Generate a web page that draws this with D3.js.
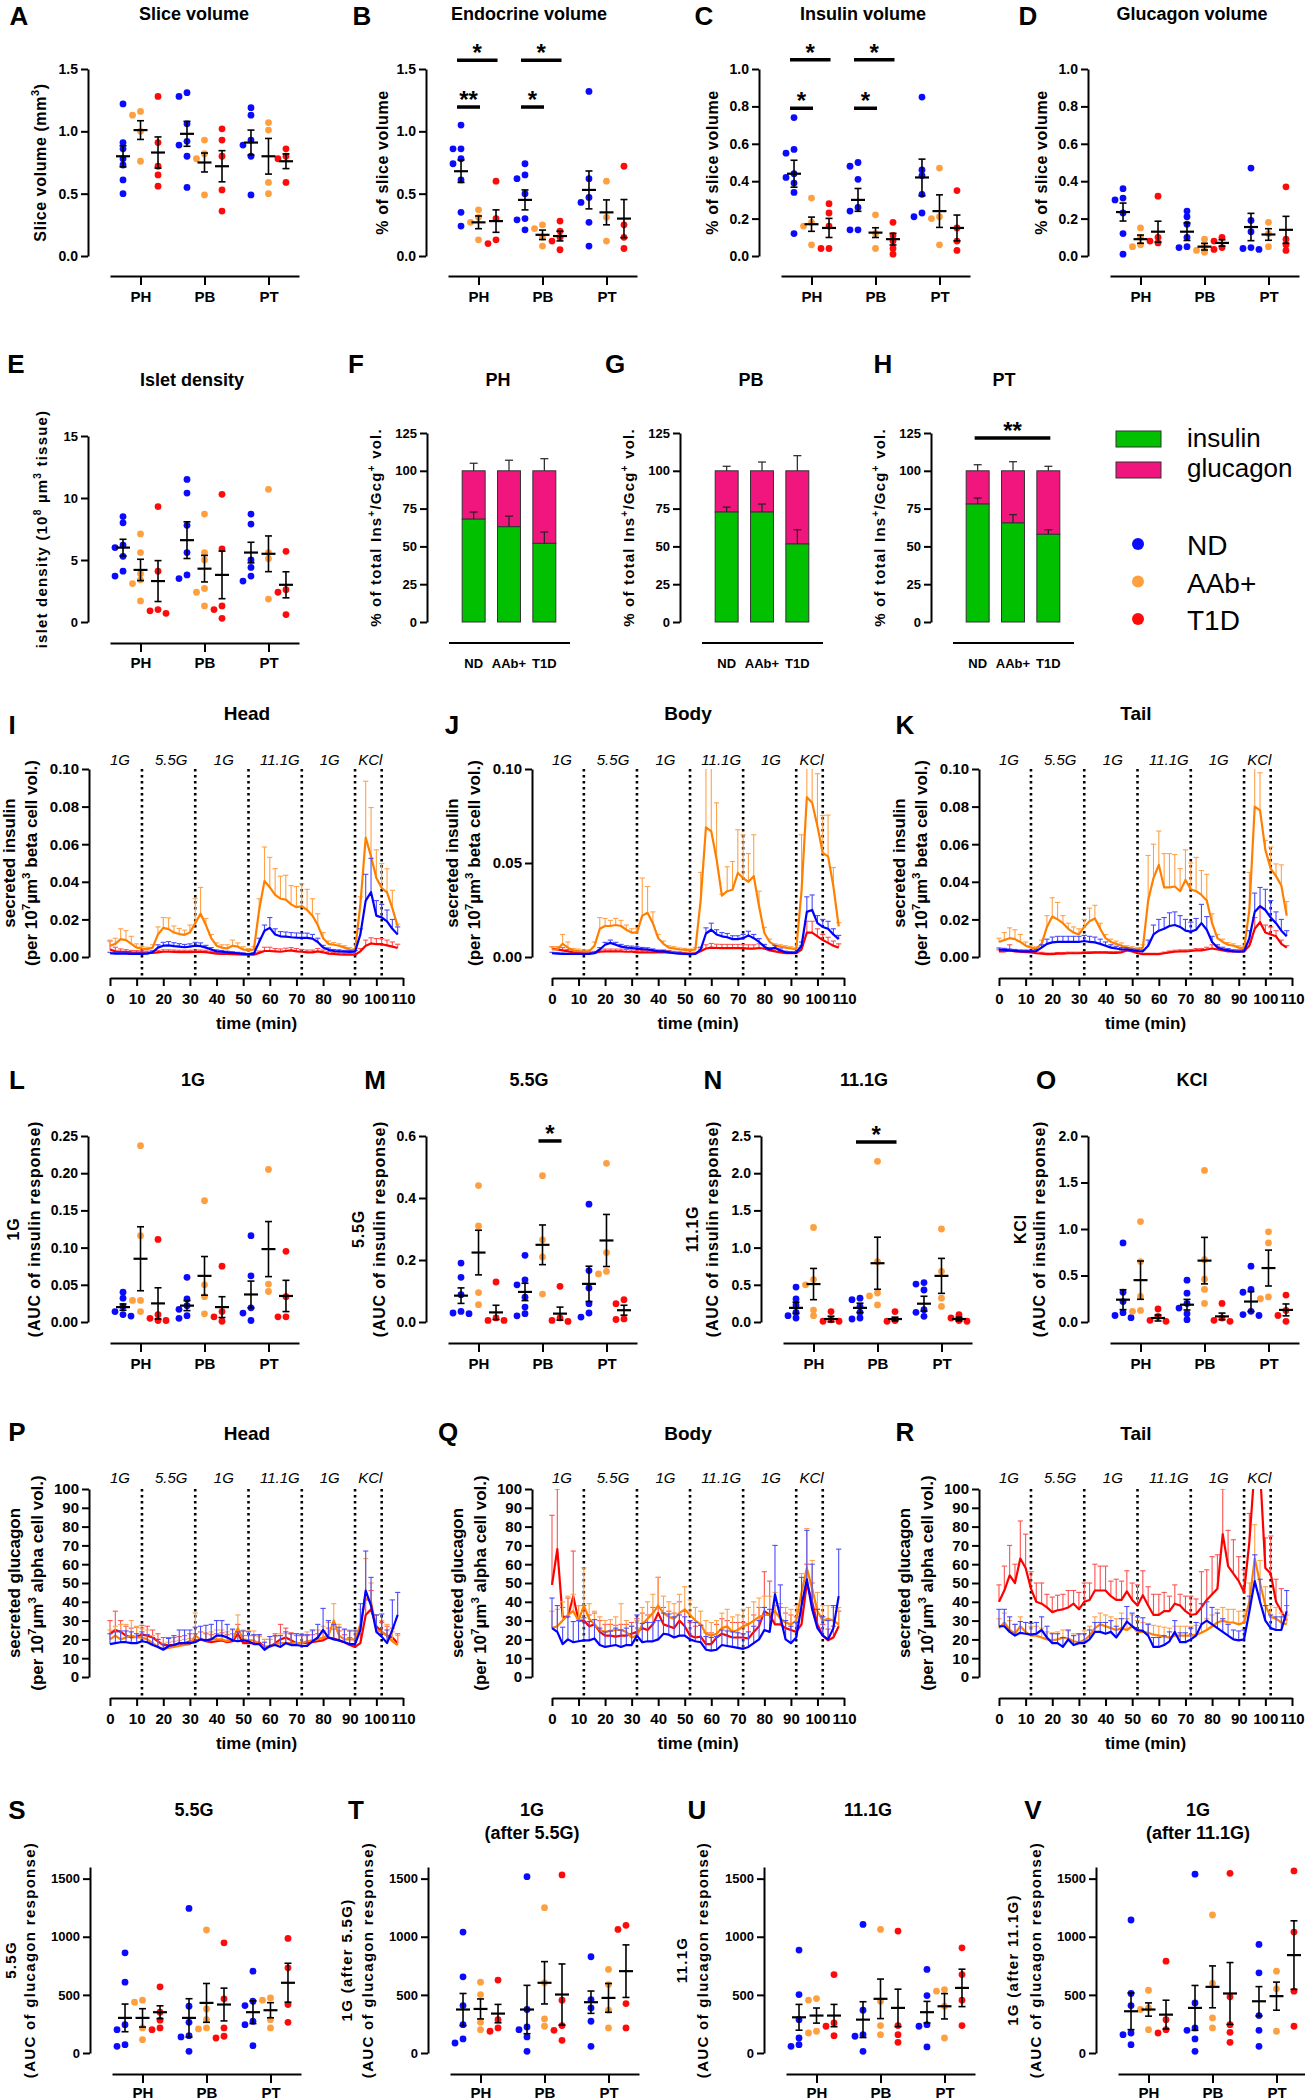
<!DOCTYPE html>
<html><head><meta charset="utf-8">
<script src="https://cdn.jsdelivr.net/npm/d3@7"></script>
<style>body{margin:0;background:#fff}svg{display:block}text{font-family:"Liberation Sans",Arial,sans-serif}</style>
</head><body><svg id="fig" width="1305" height="2100"></svg>
<script>
// ---------------- DATA ----------------
const groups = ["PH","PB","PT"];
const seriesNames = ["ND","AAb+","T1D"];

// A slice volume
const sliceTicks = [0,0.5,1.0,1.5];
const sliceND = [[1.22,0.91,0.86,0.78,0.73,0.61,0.50],[1.31,1.28,1.06,0.92,0.89,0.80,0.55],[1.19,1.13,0.93,0.89,0.80,0.49]];
const sliceAAb = [[1.16,1.13,1.00,0.76],[0.93,0.82,0.78,0.49],[1.07,1.01,0.59,0.50]];
const sliceT1D = [[1.28,0.91,0.72,0.65,0.56],[1.02,0.93,0.80,0.53,0.36],[0.86,0.80,0.78,0.59]];
const sliceMean = [[0.80,1.01,0.83],[0.98,0.75,0.72],[0.91,0.80,0.76]];
const sliceSem = [[0.085,0.075,0.125],[0.10,0.076,0.125],[0.10,0.143,0.059]];
// B endocrine volume
const endoTicks = [0,0.5,1.0,1.5];
const endoND = [[1.05,0.86,0.86,0.78,0.74,0.61,0.35,0.24],[0.74,0.65,0.62,0.50,0.30,0.29,0.21],[1.32,0.62,0.47,0.43,0.27,0.08]];
const endoAAb = [[0.37,0.31,0.27,0.13],[0.25,0.22,0.15,0.08],[0.60,0.31,0.12]];
const endoT1D = [[0.60,0.30,0.13,0.10],[0.28,0.20,0.15,0.12,0.05],[0.72,0.25,0.15,0.06]];
const endoMean = [[0.68,0.27,0.28],[0.45,0.17,0.16],[0.53,0.35,0.30]];
const endoSem = [[0.09,0.051,0.09],[0.08,0.038,0.039],[0.152,0.10,0.153]];
const endoSig = [{g:"PH",a:0,b:2,v:1.57,t:"*"},{g:"PB",a:0,b:2,v:1.57,t:"*"},{g:"PH",a:0,b:1,v:1.195,t:"**"},{g:"PB",a:0,b:1,v:1.195,t:"*"}];
// C insulin volume
const fracTicks = [0,0.2,0.4,0.6,0.8,1.0];
const insVolND = [[0.74,0.57,0.55,0.44,0.42,0.39,0.34,0.12],[0.50,0.48,0.41,0.26,0.24,0.14,0.14],[0.85,0.46,0.43,0.33,0.23,0.21]];
const insVolAAb = [[0.31,0.18,0.16,0.06],[0.22,0.12,0.04],[0.47,0.21,0.20,0.06]];
const insVolT1D = [[0.28,0.23,0.16,0.04,0.04],[0.18,0.11,0.08,0.04,0.01],[0.35,0.15,0.08,0.03]];
const insVolMean = [[0.44,0.17,0.15],[0.30,0.125,0.09],[0.42,0.24,0.15]];
const insVolSem = [[0.072,0.038,0.051],[0.061,0.026,0.031],[0.098,0.087,0.069]];
const insVolSig = [{g:"PH",a:0,b:2,v:1.05,t:"*"},{g:"PB",a:0,b:2,v:1.05,t:"*"},{g:"PH",a:0,b:1,v:0.79,t:"*"},{g:"PB",a:0,b:1,v:0.79,t:"*"}];
// D glucagon volume
const gcgVolND = [[0.36,0.31,0.30,0.23,0.12,0.01],[0.24,0.21,0.17,0.10,0.05,0.045],[0.47,0.19,0.13,0.045,0.04,0.035]];
const gcgVolAAb = [[0.15,0.10,0.06,0.05],[0.09,0.05,0.03,0.02],[0.18,0.12,0.05]];
const gcgVolT1D = [[0.32,0.10,0.08,0.07],[0.10,0.08,0.045,0.035],[0.37,0.09,0.06,0.03]];
const gcgVolMean = [[0.235,0.09,0.13],[0.13,0.05,0.07],[0.155,0.115,0.14]];
const gcgVolSem = [[0.048,0.022,0.056],[0.047,0.018,0.017],[0.073,0.031,0.072]];
// E islet density
const isletTicks = [0,5,10,15];
const isletND = [[8.5,8.0,6.2,6.0,5.3,4.1,3.7],[11.5,10.4,7.8,5.6,3.8,3.5],[8.7,7.9,5.0,4.4,3.7,3.3]];
const isletAAb = [[7.1,5.6,3.9,3.4,3.1,1.7],[8.7,5.6,5.0,2.7,2.4,1.3],[10.7,5.6,5.1,1.85]];
const isletT1D = [[9.3,4.1,1.0,0.9,0.7],[10.3,5.9,1.3,1.0,0.3],[5.7,2.6,2.4,0.6]];
const isletMean = [[6.0,4.2,3.3],[6.6,4.3,3.8],[5.6,5.5,3.0]];
const isletSem = [[0.67,0.86,1.65],[1.48,1.07,1.92],[0.83,1.44,1.05]];
// F-H composition bars
const barSeries = ["ND","AAb+","T1D"];
const pctTicks = [0,25,50,75,100,125];
const insPctPH = [68,63,52], insPctSemPH = [4.7,7,7.5], totSemPH = [5,7,8];
const insPctPB = [72.7,72.7,51.6], insPctSemPB = [3.3,5.3,9.4], totSemPB = [3,5.8,10];
const insPctPT = [78,65.5,58], insPctSemPT = [4,5.5,3], totSemPT = [4,6,3];
const ptSig = [{a:0,b:2,v:121.7,t:"**"}];
// L-O insulin AUC
const auc1gTicks = [0,0.05,0.10,0.15,0.20,0.25];
const auc1gND = [[0.040,0.032,0.021,0.014,0.010,0.008],[0.060,0.031,0.022,0.017,0.0085,0.005],[0.116,0.062,0.019,0.012,0.002]];
const auc1gAAb = [[0.237,0.116,0.029,0.029,0.014],[0.163,0.050,0.034,0.011],[0.205,0.051,0.041]];
const auc1gT1D = [[0.111,0.010,0.005,0.002,0.002],[0.075,0.014,0.007,0.001],[0.095,0.034,0.007,0.007]];
const auc1gMean = [[0.020,0.085,0.025],[0.022,0.062,0.020],[0.037,0.098,0.035]];
const auc1gSem = [[0.0042,0.043,0.021],[0.0067,0.026,0.014],[0.018,0.037,0.021]];
const auc55Ticks = [0,0.2,0.4,0.6];
const auc55ND = [[0.19,0.144,0.088,0.034,0.029,0.027],[0.215,0.136,0.12,0.08,0.048,0.027,0.02],[0.38,0.166,0.11,0.059,0.029,0.016]];
const auc55AAb = [[0.44,0.31,0.095,0.056],[0.472,0.265,0.21,0.09],[0.512,0.224,0.163,0.155]];
const auc55T1D = [[0.129,0.013,0.005,0.005],[0.115,0.013,0.005,0.002],[0.072,0.059,0.010,0.008]];
const auc55Mean = [[0.085,0.224,0.031],[0.097,0.249,0.027],[0.123,0.263,0.038]];
const auc55Sem = [[0.025,0.072,0.023],[0.028,0.064,0.021],[0.057,0.084,0.016]];
const auc55Sig = [{g:"PB",a:1,b:2,v:0.584,t:"*"}];
const auc111Ticks = [0,0.5,1.0,1.5,2.0,2.5];
const auc111ND = [[0.47,0.31,0.23,0.13,0.085,0.054],[0.32,0.30,0.21,0.13,0.054,0.04],[0.53,0.51,0.43,0.165,0.13,0.076]];
const auc111AAb = [[1.27,0.57,0.50,0.16,0.085],[2.16,0.81,0.39,0.35,0.23],[1.25,0.68,0.32,0.21]];
const auc111T1D = [[0.14,0.03,0.01,0.01],[0.14,0.02,0.01],[0.10,0.054,0.02,0.01]];
const auc111Mean = [[0.19,0.51,0.04],[0.19,0.79,0.04],[0.246,0.62,0.04]];
const auc111Sem = [[0.076,0.21,0.038],[0.063,0.35,0.025],[0.10,0.235,0.025]];
const auc111Sig = [{g:"PB",a:0,b:2,v:2.42,t:"*"}];
const aucKclTicks = [0,0.5,1.0,1.5,2.0];
const aucKclND = [[0.85,0.32,0.22,0.10,0.07,0.046],[0.45,0.31,0.20,0.15,0.09,0.025],[0.60,0.35,0.32,0.115,0.08,0.07]];
const aucKclAAb = [[1.08,0.65,0.275,0.125,0.115],[1.63,0.67,0.46,0.35,0.20],[0.97,0.85,0.27,0.25]];
const aucKclT1D = [[0.14,0.06,0.018,0.007],[0.20,0.043,0.018,0.007],[0.29,0.125,0.07,0.007]];
const aucKclMean = [[0.24,0.45,0.043],[0.186,0.66,0.06],[0.22,0.58,0.13]];
const aucKclSem = [[0.107,0.206,0.032],[0.057,0.25,0.036],[0.107,0.193,0.064]];
// S-V glucagon AUC
const gAucTicks = [0,500,1000,1500];
const gAuc55ND = [[862,609,244,201,72,57],[1244,402,264,149,138,14],[704,445,408,273,244,63]];
const gAuc55AAb = [[454,437,216,115],[1058,379,287,216,207],[474,454,287,216]];
const gAuc55T1D = [[569,351,282,216,201],[948,466,216,144,129],[986,733,417,264]];
const gAuc55Mean = [[302,302,351],[302,431,417],[351,368,604]];
const gAuc55Sem = [[119,79,55],[165,167,141],[98,65,168]];
const gAuc1aND = [[1040,655,408,244,121,86],[1517,374,224,201,138,14],[828,460,388,273,57]];
const gAuc1aAAb = [[609,503,264,201],[1250,604,293,230],[719,589,368,216]];
const gAuc1aT1D = [[627,287,216,187],[1532,454,236,195,109],[1098,1063,425,216]];
const gAuc1aMean = [[374,379,339],[374,604,503],[437,474,704]];
const gAuc1aSem = [[138,86,79],[208,182,263],[96,124,226]];
const gAuc111ND = [[885,503,287,129,72,57],[1106,368,158,144,14],[719,494,244,230,52]];
const gAuc111AAb = [[468,454,187,172],[1063,445,236,158],[546,532,402,129]];
const gAuc111T1D = [[675,259,230,149],[1049,236,158,92],[905,675,454,236]];
const gAuc111Mean = [[307,322,322],[287,466,388],[351,402,560]];
const gAuc111Sem = [[111,65,96],[154,170,161],[93,109,161]];
const gAuc1bND = [[1144,512,408,172,158,72],[1538,431,216,195,121,14],[934,690,322,195,57]];
const gAuc1bAAb = [[540,388,374,201],[1187,598,302,216],[704,552,187]];
const gAuc1bT1D = [[790,287,201,172],[1546,483,244,178,92],[1566,1040,532,230]];
const gAuc1bMean = [[359,374,330],[388,569,512],[445,489,842]];
const gAuc1bSem = [[158,57,124],[193,180,266],[126,121,295]];

// Perifusion time courses (every 2 min)
const timeMin = [0,2,4,6,8,10,12,14,16,18,20,22,24,26,28,30,32,34,36,38,40,42,44,46,48,50,52,54,56,58,60,62,64,66,68,70,72,74,76,78,80,82,84,86,88,90,92,94,96,98,100,102,104,106,108];
const timeTicks = [0,10,20,30,40,50,60,70,80,90,100,110];
const stimNames = ["1G","5.5G","1G","11.1G","1G","KCl"];
const stimLabelT = [3.75,23,42.75,63.75,82.5,97.75];
const stimBounds = [12,32,52,72,92,102];
const insTicks = [0,0.02,0.04,0.06,0.08,0.10];
const insTicksBody = [0,0.05,0.10];
const gcgTicks = [0,10,20,30,40,50,60,70,80,90,100];

const insHeadND = [0.002,0.0018,0.0018,0.0018,0.0017,0.0017,0.0017,0.0018,0.0025,0.005,0.006,
0.0062,0.0058,0.0055,0.0052,0.0055,0.006,0.0058,0.005,0.004,0.003,0.0028,
0.0025,0.0022,0.002,0.0017,0.0015,0.0018,0.008,0.014,0.0155,0.012,0.011,
0.0108,0.0105,0.0103,0.0102,0.0102,0.0098,0.008,0.005,0.0038,0.0032,0.003,
0.0028,0.0027,0.0028,0.012,0.03,0.0345,0.022,0.021,0.019,0.015,0.012];
const insHeadNDsem = [0.0005,0.0005,0.0005,0.0004,0.0004,0.0004,0.0004,0.0004,0.0008,0.0015,0.0018,
0.002,0.0018,0.0016,0.0015,0.0015,0.0018,0.0017,0.0012,0.001,0.0008,0.0007,
0.0006,0.0006,0.0005,0.0005,0.0004,0.0005,0.002,0.003,0.0055,0.003,0.0025,
0.0025,0.0025,0.0025,0.0025,0.0025,0.0022,0.002,0.0012,0.001,0.0008,0.0008,
0.0007,0.0007,0.0007,0.003,0.014,0.018,0.008,0.007,0.006,0.005,0.004];
const insHeadAAb = [0.006,0.007,0.0095,0.009,0.007,0.005,0.0045,0.0042,0.005,0.012,0.0155,
0.0148,0.013,0.0122,0.0118,0.013,0.018,0.023,0.017,0.01,0.006,0.005,
0.0045,0.006,0.0055,0.004,0.0035,0.004,0.025,0.0405,0.037,0.033,0.031,
0.0305,0.028,0.0265,0.027,0.025,0.022,0.017,0.01,0.007,0.0065,0.006,
0.005,0.004,0.0035,0.028,0.0635,0.0535,0.042,0.0367,0.0344,0.026,0.0163];
const insHeadAAbSem = [0.003,0.003,0.0055,0.005,0.004,0.002,0.0012,0.001,0.0015,0.004,0.0055,
0.006,0.0035,0.003,0.0025,0.004,0.013,0.014,0.0035,0.002,0.0015,0.0015,
0.002,0.003,0.002,0.0015,0.001,0.0015,0.006,0.018,0.016,0.014,0.012,
0.013,0.01,0.011,0.012,0.011,0.009,0.006,0.003,0.0015,0.0012,0.001,
0.001,0.001,0.001,0.004,0.03,0.026,0.015,0.013,0.0125,0.0095,0.0012];
const insHeadT1D = [0.004,0.003,0.0028,0.0027,0.0025,0.0024,0.0023,0.0022,0.0022,0.0025,0.0028,
0.0028,0.0027,0.0026,0.0026,0.0026,0.0027,0.0027,0.0026,0.0022,0.0018,0.0017,
0.0016,0.0015,0.0014,0.0013,0.0012,0.0012,0.0022,0.0032,0.0032,0.003,0.0028,
0.0032,0.0035,0.003,0.0028,0.0025,0.0025,0.003,0.0025,0.0018,0.0016,0.0014,
0.0013,0.0012,0.0012,0.003,0.006,0.0072,0.0068,0.0068,0.0062,0.0055,0.0048];
const insHeadT1Dsem = [0.0045,0.0022,0.0015,0.0012,0.001,0.001,0.001,0.0009,0.0009,0.001,0.001,
0.001,0.001,0.001,0.001,0.001,0.001,0.001,0.001,0.0009,0.0008,0.0008,
0.0007,0.0007,0.0006,0.0006,0.0005,0.0005,0.001,0.002,0.002,0.0015,0.0015,
0.0015,0.0015,0.0015,0.0012,0.0012,0.0012,0.0015,0.0012,0.001,0.0008,0.0008,
0.0007,0.0006,0.0006,0.0015,0.003,0.003,0.003,0.003,0.0028,0.0025,0.002];

const insBodyND = [0.002,0.0018,0.0017,0.0016,0.0016,0.0016,0.0016,0.0017,0.002,0.004,0.0065,
0.0075,0.0065,0.0055,0.005,0.0048,0.0045,0.0042,0.004,0.0035,0.003,0.003,
0.0025,0.002,0.0018,0.0016,0.0015,0.0016,0.004,0.0125,0.0145,0.012,0.011,
0.0105,0.0095,0.0095,0.01,0.0115,0.01,0.008,0.0055,0.004,0.005,0.0035,
0.0025,0.0022,0.0023,0.006,0.024,0.025,0.018,0.016,0.015,0.012,0.0095];
const insBodyNDsem = [0.0005,0.0005,0.0004,0.0004,0.0004,0.0004,0.0004,0.0004,0.0005,0.001,0.0013,
0.0015,0.0013,0.0012,0.001,0.001,0.001,0.0009,0.0009,0.0008,0.0007,0.0007,
0.0006,0.0005,0.0005,0.0004,0.0004,0.0004,0.0012,0.003,0.0035,0.0025,0.002,
0.002,0.0018,0.0018,0.002,0.0022,0.002,0.0018,0.0012,0.001,0.0012,0.0008,
0.0006,0.0005,0.0005,0.002,0.008,0.008,0.004,0.004,0.004,0.003,0.002];
const insBodyAAb = [0.004,0.004,0.007,0.005,0.0035,0.0032,0.003,0.003,0.006,0.015,0.0165,
0.0165,0.017,0.0165,0.0145,0.013,0.013,0.022,0.0235,0.018,0.01,0.007,
0.005,0.0045,0.004,0.0038,0.0035,0.004,0.03,0.069,0.0668,0.052,0.0326,
0.035,0.0358,0.0447,0.042,0.040,0.043,0.027,0.0128,0.008,0.006,0.0055,
0.005,0.0045,0.004,0.035,0.085,0.082,0.0695,0.0553,0.0535,0.0376,0.0163];
const insBodyAAbSem = [0.0015,0.0015,0.005,0.003,0.001,0.001,0.0008,0.0008,0.002,0.006,0.004,
0.003,0.0035,0.003,0.0025,0.002,0.002,0.02,0.014,0.006,0.002,0.0015,
0.001,0.001,0.0008,0.0008,0.0008,0.001,0.015,0.04,0.04,0.03,0.0008,
0.013,0.015,0.023,0.023,0.015,0.022,0.008,0.003,0.0015,0.001,0.001,
0.001,0.001,0.001,0.03,0.04,0.04,0.028,0.02,0.022,0.01,0.002];
const insBodyT1D = [0.0045,0.004,0.0035,0.003,0.0025,0.0022,0.002,0.002,0.0022,0.0028,0.003,
0.003,0.003,0.003,0.0028,0.0028,0.0025,0.0025,0.0025,0.0025,0.0025,0.0025,
0.0024,0.0022,0.002,0.0018,0.0016,0.0018,0.003,0.0045,0.005,0.0048,0.0047,
0.0047,0.0047,0.0047,0.0047,0.0045,0.0045,0.0048,0.0045,0.0035,0.003,0.0025,
0.002,0.002,0.002,0.004,0.013,0.013,0.011,0.009,0.0075,0.006,0.005];
const insBodyT1Dsem = [0.001,0.0015,0.0015,0.001,0.001,0.0008,0.0008,0.0008,0.0008,0.001,0.0012,
0.0012,0.0012,0.0012,0.0012,0.001,0.001,0.001,0.001,0.001,0.001,0.001,
0.001,0.0008,0.0008,0.0007,0.0006,0.0007,0.0012,0.002,0.0022,0.002,0.002,
0.002,0.002,0.002,0.002,0.002,0.002,0.0022,0.002,0.0015,0.0012,0.001,
0.0008,0.0008,0.0008,0.002,0.006,0.006,0.004,0.003,0.003,0.0025,0.002];

const insTailND = [0.004,0.0038,0.0035,0.0033,0.003,0.003,0.003,0.0032,0.005,0.007,0.0078,
0.008,0.008,0.008,0.008,0.008,0.0085,0.008,0.0078,0.007,0.006,0.005,
0.0045,0.004,0.004,0.0035,0.0032,0.003,0.006,0.012,0.014,0.015,0.0165,
0.017,0.016,0.014,0.0135,0.0145,0.018,0.0145,0.008,0.005,0.004,0.0035,
0.003,0.0028,0.003,0.01,0.024,0.027,0.025,0.021,0.018,0.014,0.011];
const insTailNDsem = [0.0008,0.0008,0.0008,0.0007,0.0007,0.0007,0.0007,0.0008,0.0015,0.0025,0.0028,
0.003,0.003,0.003,0.003,0.003,0.003,0.003,0.0028,0.0025,0.002,0.0015,
0.0012,0.001,0.001,0.0008,0.0008,0.0008,0.003,0.005,0.006,0.006,0.007,
0.007,0.006,0.006,0.005,0.006,0.01,0.007,0.003,0.0015,0.0012,0.001,
0.0008,0.0008,0.0008,0.004,0.01,0.01,0.011,0.009,0.006,0.006,0.003];
const insTailAAb = [0.008,0.009,0.01,0.0095,0.008,0.006,0.005,0.0045,0.007,0.016,0.0215,
0.02,0.018,0.015,0.013,0.012,0.016,0.019,0.0205,0.015,0.01,0.008,
0.007,0.006,0.005,0.0045,0.004,0.005,0.03,0.042,0.049,0.037,0.037,
0.0375,0.035,0.041,0.036,0.035,0.033,0.03,0.018,0.01,0.008,0.0065,
0.006,0.005,0.0045,0.025,0.08,0.078,0.057,0.047,0.043,0.038,0.022];
const insTailAAbSem = [0.002,0.004,0.0055,0.005,0.004,0.002,0.001,0.001,0.002,0.006,0.01,
0.009,0.004,0.003,0.003,0.003,0.004,0.007,0.007,0.003,0.002,0.0015,
0.0015,0.0015,0.001,0.001,0.001,0.0015,0.024,0.018,0.018,0.018,0.018,
0.017,0.012,0.016,0.014,0.018,0.013,0.014,0.005,0.002,0.0015,0.0012,
0.001,0.001,0.001,0.02,0.03,0.02,0.005,0.0115,0.0065,0.011,0.0075];
const insTailT1D = [0.003,0.003,0.0035,0.003,0.0028,0.0026,0.0025,0.002,0.0018,0.0015,0.0015,
0.0018,0.0018,0.002,0.002,0.002,0.0022,0.0022,0.0023,0.0023,0.0023,0.0022,
0.0022,0.0025,0.0035,0.003,0.002,0.0015,0.0015,0.0015,0.0015,0.002,0.0025,
0.0028,0.003,0.003,0.0032,0.0035,0.0035,0.004,0.0045,0.004,0.0035,0.003,
0.003,0.003,0.003,0.006,0.015,0.0185,0.013,0.012,0.011,0.007,0.005];
const insTailT1Dsem = [0.0008,0.001,0.003,0.001,0.0008,0.0008,0.0008,0.0007,0.0007,0.0006,0.0006,
0.0006,0.0006,0.0006,0.0006,0.0006,0.0006,0.0006,0.0006,0.0006,0.0006,0.0006,
0.0006,0.0007,0.001,0.0008,0.0006,0.0005,0.0005,0.0005,0.0005,0.0006,0.0007,
0.0008,0.0008,0.0008,0.0008,0.001,0.001,0.0012,0.002,0.0015,0.001,0.0008,
0.0008,0.0008,0.0008,0.002,0.006,0.008,0.004,0.004,0.003,0.002,0.001];

const glcHeadND = [17.5,18,18.5,18.5,18,18,19,18.5,17,16,14.5,
16.5,17,18,18,18,18.5,20,19.5,20,22,22,
21,19.5,19,19.5,19,17.5,17.5,14.5,16.5,17,16,
18,17,17,16.5,16.5,19,21,25,21,20,19.5,
18.5,17.5,17.5,25,46,38,24,21.5,18,25,33];
const glcHeadNDsem = [5.5,6,6,6,6,5,5,4,4,4,3,
4,5,7,7,7,8,7,8,8,8,8,
7,6,5,5,5,5,5,4,5,5,6,
6,6,6,6,6,6,7,11.5,9,8,7,
7,7,7,14,21,15,9,12,7,16,12];
const glcHeadAAb = [20,22,20,21,22,21,21,20,18,16,15,
15.5,16,16.5,17,17.5,22,20,19.5,20,20,20,
19,20,26,20,19.5,19.5,17.5,16,16,17.5,18,
18,18,18,18,19,19.5,20,21,22,30,22,
20,20,20,28,42,40,25,24,22,19,17];
const glcHeadAAbSem = [5,5,8,7,8,6,5,5,4,4,3,
3,3,3,3,3,12,4,4,4,5,5,
5,5,7,5,5,5,4,4,4,4,5,
5,5,5,5,5,5,5,6,7,9,6,
5,5,5,8,21,10,8,6,6,5,5];
const glcHeadT1D = [23,25,24,22,21,21.5,22.5,22,21,19,17,
17,17,17.5,18,19,19,20,19,18.5,19,19.5,
18.5,19,23,18,18,18,18.5,16,16,18,20,
21,19.5,18,18,18,18.5,19,19.5,21,20.5,19.5,
18.5,17,16,18,33,36,27,24,22,21,18];
const glcHeadT1Dsem = [7,10,6,5,5,5,5,5,4,4,4,
4,4,4,4,4,4,4,4,4,4,4,
4,4,5,4,4,4,4,4,4,5,8,
5,4,4,4,4,4,4,5,5,5,5,
4,4,4,5,8,10,6,5,5,5,5];

const glcBodyND = [26,24,17.5,20,18.5,19,19.5,19.5,20.5,17,16,
16.5,17,16,17,17,22,18.5,19,19,20,23,
22.5,21,22,22,20,19,18.5,14.5,14,14.5,17,
16.5,16,15.5,15,16,18,20,25,24,44,32,
20,18,21,38,52,36,26,22,20,26,43];
const glcBodyNDsem = [16,14,9,12,11,11,12,10,10,9,8,
8,9,9,9,10,11,10,10,10,10,11,
11,11,11,10,10,10,9,7,7,7,8,
8,8,8,8,8,9,10,12,12,26,17,
10,9,8,15,26,24,10,10,10,12,25];
const glcBodyAAb = [26,27,30,33,35,30,38,31,28,25,24,
24.5,25,25,24,21,22,28,31,34,38,34,
32,31,34,36,33,30,28,23,22,23,26,
27,24,25,27,28,30,32,33,33,35,31,
29,28,30,45,58,47,35,30,31,30,28];
const glcBodyAAbSem = [9,9,10,10,9,8,20,8,7,7,6,
6,7,14,6,6,8,9,9,10,15,9,
8,8,10,12,8,7,7,7,7,7,8,
9,8,8,9,9,10,10,10,10,10,8,
8,8,8,10,21,15,10,8,7,7,9];
const glcBodyT1D = [49,68,32,32,43,30,30,27,28,24,22,
22,21.5,22,22,23,24,26,25,28,34,28,
27,26,30,27,22,21,21.5,17.5,17.5,21,23,
22,21,21,21,20.5,24,27,35,33,28,28,
26,25,24,28,50,40,28,22,19.5,21,27];
const glcBodyT1Dsem = [37,32,5,10,24,8,8,6,6,6,6,
6,6,6,6,6,7,8,8,9,19,9,
8,8,10,8,7,6,6,6,6,7,8,
8,8,8,8,8,9,10,21,18,10,9,
8,8,8,8,10,10,8,6,6,6,8];

const glcTailND = [27,27,24,22,23.5,23,22.5,23,25,21,18,
18,16,20,17,18,18,20,24,24,23,24,
21,25,29.5,27,25,24.5,22,16,16,17,19,
24,18.5,18.5,20,22,28,30,28,26,24,22,
20,19.5,20,35,51,40,30,26,25,25,35];
const glcTailNDsem = [9,9,8,6,6,6,6,6,7,6,5,
5,5,5,5,5,5,5,5,5,6,6,
6,6,8,7,7,7,6,5,5,5,5,
6,5,5,6,7,11,10,9,8,7,6,
5,5,5,8,14,12,8,7,7,7,11];
const glcTailAAb = [26,29,25,23,27,24,22,22,21,20,19.5,
20,21,20.5,19,18.5,19.5,22,26,28,27,26,
25,26,25,27,24,24,23.5,22.5,22,21.5,21,
22,22,22,22,22.5,23.5,25,27,29,30,29,
29,28,29,40,63,50,38,32,31,29,28];
const glcTailAAbSem = [5,5,5,5,5,5,5,5,5,4,4,
4,4,4,4,4,5,5,6,6,6,6,
6,8,6,6,6,5,5,5,5,5,5,
5,5,5,5,5,5,6,6,7,7,7,
7,7,6,10,18,12,10,6,6,5,5];
const glcTailT1D = [40,46,54,50,63,58,47,40,39,37,34.5,
35.5,36,37,39,36,40,41,46,46,46,43,
41,41,45.5,41,38,43.5,38,33,33,35,35,
39,38,35,33,33.5,37,41,44,47,76,59,
55,51,45,72,112,110,58,55,40,35,30];
const glcTailT1Dsem = [9,13,16,10,20,18,9,10,11,7,8,
8,8,9,7,9,10,9,14,13,13,8,
11,10,11,9,11,13,10,11,11,10,8,
10,6,8,10,8,19,16,20,18,24,19,
18,13,12,15,20,20,16,20,12,12,8];

// ---------------- RENDER ----------------
const FONT = '"Liberation Sans", Arial, sans-serif';
const svg = d3.select("#fig");
const dotCol = ["#0a0aff","#ffa040","#ff0a0a"];
const lineCol = ["#0000ff","#ff8000","#ff0000"];
const errCol = ["#4a4aff","#ffa24a","#ff5050"];
const insCol = "#00c000", gcgCol = "#f0167e";

function txt(g, x, y, s, o) {
  o = o || {};
  const t = g.append("text").attr("x", x).attr("y", y)
    .attr("text-anchor", o.anchor || "middle")
    .attr("dominant-baseline", o.base || "central")
    .attr("font-size", o.fs || 14).attr("font-weight", o.fw || "bold")
    .attr("font-family", FONT).attr("fill", "#000");
  if (o.italic) t.attr("font-style", "italic");
  if (o.ls) t.attr("letter-spacing", o.ls);
  t.text(s);
  return t;
}
function rich(t, str, fs) {
  const parts = str.split(/(\^.)/).filter(s => s.length);
  let raised = false;
  parts.forEach(pt => {
    if (pt[0] === "^" && pt.length === 2) {
      t.append("tspan").attr("dy", -fs * 0.4).attr("font-size", fs * 0.68).text(pt[1]);
      raised = true;
    } else {
      const ts = t.append("tspan").text(pt);
      if (raised) { ts.attr("dy", fs * 0.4); raised = false; }
    }
  });
}
function ylab(g, lines, xs, yc, fs, ls) {
  lines.forEach((ln, i) => {
    const t = g.append("text").attr("transform", `translate(${xs[i]},${yc}) rotate(-90)`)
      .attr("text-anchor", "middle").attr("dy", "0.35em")
      .attr("font-size", fs).attr("font-weight", "bold").attr("font-family", FONT)
      .attr("letter-spacing", ls || 0);
    rich(t, ln, fs);
  });
}
function styleAxis(sel, fs) {
  sel.attr("font-family", FONT).attr("font-size", fs).attr("font-weight", "bold");
  sel.select(".domain").attr("stroke", "#000").attr("stroke-width", 2);
  sel.selectAll(".tick line").attr("stroke", "#000").attr("stroke-width", 2);
  sel.selectAll(".tick text").attr("fill", "#000");
}
function headers(g, p) {
  txt(g, p.lx, p.ly, p.letter, {fs: 26});
  p.title.forEach((t, i) => txt(g, p.tx, p.ty + i * 23, t, {fs: 18}));
}

function scatter(p) {
  const g = svg.append("g");
  const y = d3.scaleLinear().domain(p.domain).range([p.y0, p.yTop]);
  const x = d3.scalePoint().domain(groups).range([p.x0 + 22, p.x0 + 211]).padding(0.477);
  const off = d3.scalePoint().domain(seriesNames).range([-17.5, 17.5]);
  const ya = g.append("g").attr("transform", `translate(${p.x0},0)`)
    .call(d3.axisLeft(y).tickValues(p.ticks).tickFormat(d3.format(p.fmt)).tickSize(7).tickSizeOuter(0).tickPadding(3));
  styleAxis(ya, p.tickFs || 14);
  const xa = g.append("g").attr("transform", `translate(0,${p.axisY})`)
    .call(d3.axisBottom(x).tickSize(9).tickSizeOuter(0));
  styleAxis(xa, 15);
  xa.selectAll(".tick text").attr("y", p.labY - p.axisY).attr("dy", "0.35em");
  const sets = [p.nd, p.aab, p.t1d];
  seriesNames.forEach((s, si) => {
    groups.forEach((gr, gi) => {
      const placed = [];
      const pts = sets[si][gi].map(v => {
        const py = y(v);
        let dx = 0;
        for (const c of [0, -4, 4, -8, 8, -12, 12]) {
          if (!placed.some(q => Math.abs(q.py - py) < 5.5 && Math.abs(q.dx - c) < 5.5)) { dx = c; break; }
        }
        placed.push({py, dx});
        return {cx: x(gr) + off(s) + dx, cy: py};
      });
      g.append("g").selectAll("circle").data(pts).join("circle")
        .attr("cx", d => d.cx).attr("cy", d => d.cy).attr("r", 3.4).attr("fill", dotCol[si]);
    });
  });
  groups.forEach((gr, gi) => seriesNames.forEach((s, si) => {
    const cx = x(gr) + off(s), m = p.mean[gi][si], e = p.sem[gi][si];
    const eg = g.append("g").attr("stroke", "#000");
    eg.append("line").attr("x1", cx).attr("x2", cx).attr("y1", y(Math.max(0, m - e))).attr("y2", y(m + e)).attr("stroke-width", 1.6);
    [m + e, Math.max(0, m - e)].forEach(v => eg.append("line").attr("x1", cx - 3.5).attr("x2", cx + 3.5).attr("y1", y(v)).attr("y2", y(v)).attr("stroke-width", 1.6));
    eg.append("line").attr("x1", cx - 7).attr("x2", cx + 7).attr("y1", y(m)).attr("y2", y(m)).attr("stroke-width", 2.2);
  }));
  (p.sig || []).forEach(s => {
    const xa0 = x(s.g) + off(seriesNames[s.a]) - 4, xb = x(s.g) + off(seriesNames[s.b]) + 1.5;
    g.append("line").attr("x1", xa0).attr("x2", xb).attr("y1", y(s.v)).attr("y2", y(s.v)).attr("stroke", "#000").attr("stroke-width", 3.5);
    txt(g, (xa0 + xb) / 2, y(s.v) + 1, s.t, {fs: 24, base: "alphabetic"});
  });
  headers(g, p);
  ylab(g, p.ylab, p.ylx.map(d => p.x0 + d), (p.y0 + p.yTop) / 2, p.ylfs, p.ylls);
}

function bars(p) {
  const g = svg.append("g");
  const y = d3.scaleLinear().domain([0, 125]).range([622, 433]);
  const x = d3.scaleBand().domain(barSeries).range([p.x0 + 29, p.x0 + 135]).paddingInner(0.35).paddingOuter(0.175);
  const ya = g.append("g").attr("transform", `translate(${p.x0},0)`)
    .call(d3.axisLeft(y).tickValues(pctTicks).tickSize(7).tickSizeOuter(0).tickPadding(3));
  styleAxis(ya, 13);
  g.append("line").attr("x1", p.x0 + 22).attr("x2", p.x0 + 143).attr("y1", 643).attr("y2", 643).attr("stroke", "#000").attr("stroke-width", 2);
  barSeries.forEach((s, i) => txt(g, x(s) + x.bandwidth() / 2, 663, s, {fs: 13}));
  barSeries.forEach((s, i) => {
    const bx = x(s), bw = x.bandwidth(), ins = p.ins[i];
    g.append("rect").attr("x", bx).attr("width", bw).attr("y", y(100)).attr("height", y(ins) - y(100)).attr("fill", gcgCol).attr("stroke", "#333").attr("stroke-width", 1);
    g.append("rect").attr("x", bx).attr("width", bw).attr("y", y(ins)).attr("height", y(0) - y(ins)).attr("fill", insCol).attr("stroke", "#333").attr("stroke-width", 1);
    const cx = bx + bw / 2;
    [[ins, p.insSem[i]], [100, p.totSem[i]]].forEach(([v, e]) => {
      g.append("line").attr("x1", cx).attr("x2", cx).attr("y1", y(v)).attr("y2", y(v + e)).attr("stroke", "#222").attr("stroke-width", 1.2);
      g.append("line").attr("x1", cx - 4).attr("x2", cx + 4).attr("y1", y(v + e)).attr("y2", y(v + e)).attr("stroke", "#222").attr("stroke-width", 1.2);
    });
  });
  (p.sig || []).forEach(s => {
    const xa0 = x(barSeries[s.a]) + x.bandwidth() / 2 - 3, xb = x(barSeries[s.b]) + x.bandwidth() / 2 + 2;
    g.append("line").attr("x1", xa0).attr("x2", xb).attr("y1", y(s.v)).attr("y2", y(s.v)).attr("stroke", "#000").attr("stroke-width", 3.5);
    txt(g, (xa0 + xb) / 2, y(s.v) + 1, s.t, {fs: 24, base: "alphabetic"});
  });
  headers(g, p);
  ylab(g, ["% of total Ins^+/Gcg^+ vol."], [p.x0 - 51], 527.5, 15, 1.2);
}

let clipId = 0;
function timePanel(p) {
  const g = svg.append("g");
  const x = d3.scaleLinear().domain([0, 110]).range([p.xs, p.xe]);
  const y = d3.scaleLinear().domain([0, p.ymax]).range([p.y0, p.yTop]);
  const ya = g.append("g").attr("transform", `translate(${p.x0},0)`)
    .call(d3.axisLeft(y).tickValues(p.ticks).tickFormat(d3.format(p.fmt)).tickSize(7).tickSizeOuter(0).tickPadding(3));
  styleAxis(ya, 15);
  const xa = g.append("g").attr("transform", `translate(0,${p.axisY})`)
    .call(d3.axisBottom(x).tickValues(timeTicks).tickSize(8).tickSizeOuter(0));
  styleAxis(xa, 15);
  xa.selectAll(".tick text").attr("y", 21).attr("dy", "0.35em");
  txt(g, (p.xs + p.xe) / 2, p.axisY + 45, "time (min)", {fs: 17});
  stimBounds.forEach(b => g.append("line").attr("x1", x(b)).attr("x2", x(b)).attr("y1", p.yTop).attr("y2", p.axisY)
    .attr("stroke", "#000").attr("stroke-width", 2.6).attr("stroke-dasharray", "2.4,3.6"));
  stimNames.forEach((s, i) => txt(g, x(stimLabelT[i]), p.stimY, s, {fs: 15, fw: "normal", italic: true}));
  const cid = "clip" + (clipId++);
  g.append("clipPath").attr("id", cid).append("rect").attr("x", p.xs - 10).attr("y", p.yTop).attr("width", p.xe - p.xs + 20).attr("height", p.y0 - p.yTop + 6);
  const plot = g.append("g").attr("clip-path", `url(#${cid})`);
  const order = [2, 1, 0];
  const line = d3.line().x((d, i) => x(timeMin[i])).y(d => y(d));
  order.forEach(si => {
    const m = p.means[si], e = p.sems[si];
    const eg = plot.append("g").attr("stroke", errCol[si]).attr("stroke-width", 1.1);
    m.forEach((v, i) => {
      const cx = x(timeMin[i]);
      eg.append("line").attr("x1", cx).attr("x2", cx).attr("y1", y(v)).attr("y2", y(v + e[i]));
      eg.append("line").attr("x1", cx - 2.6).attr("x2", cx + 2.6).attr("y1", y(v + e[i])).attr("y2", y(v + e[i]));
    });
    plot.append("path").datum(m).attr("d", line).attr("fill", "none").attr("stroke", lineCol[si]).attr("stroke-width", 2.2).attr("stroke-linejoin", "round");
  });
  txt(g, p.lx, p.ly, p.letter, {fs: 26});
  txt(g, p.tx, p.ty, p.title, {fs: 19});
  ylab(g, p.ylab, [p.x0 + p.ylx[0], p.x0 + p.ylx[1]], (p.y0 + p.yTop) / 2, 17, 0);
}

// ---- Row 1 ----
const r1 = {yTop: 69, y0: 256, axisY: 276, labY: 297, ly: 16, ty: 14, ylfs: 16, ylls: 0.6};
scatter(Object.assign({}, r1, {x0: 88, domain: [0, 1.5], ticks: sliceTicks, fmt: ".1f", nd: sliceND, aab: sliceAAb, t1d: sliceT1D, mean: sliceMean, sem: sliceSem,
  letter: "A", lx: 19, title: ["Slice volume"], tx: 194, ylab: ["Slice volume (mm^3)"], ylx: [-48]}));
scatter(Object.assign({}, r1, {x0: 426, domain: [0, 1.5], ticks: endoTicks, fmt: ".1f", nd: endoND, aab: endoAAb, t1d: endoT1D, mean: endoMean, sem: endoSem, sig: endoSig,
  letter: "B", lx: 362, title: ["Endocrine volume"], tx: 529, ylab: ["% of slice volume"], ylx: [-44]}));
scatter(Object.assign({}, r1, {x0: 759, domain: [0, 1.0], ticks: fracTicks, fmt: ".1f", nd: insVolND, aab: insVolAAb, t1d: insVolT1D, mean: insVolMean, sem: insVolSem, sig: insVolSig,
  letter: "C", lx: 704, title: ["Insulin volume"], tx: 863, ylab: ["% of slice volume"], ylx: [-47]}));
scatter(Object.assign({}, r1, {x0: 1088, domain: [0, 1.0], ticks: fracTicks, fmt: ".1f", nd: gcgVolND, aab: gcgVolAAb, t1d: gcgVolT1D, mean: gcgVolMean, sem: gcgVolSem,
  letter: "D", lx: 1028, title: ["Glucagon volume"], tx: 1192, ylab: ["% of slice volume"], ylx: [-47]}));

// ---- Row 2 ----
scatter({x0: 88, yTop: 436, y0: 622, axisY: 643, labY: 663, domain: [0, 15], ticks: isletTicks, fmt: "d", tickFs: 13,
  nd: isletND, aab: isletAAb, t1d: isletT1D, mean: isletMean, sem: isletSem,
  letter: "E", lx: 16, ly: 364, title: ["Islet density"], tx: 192, ty: 380,
  ylab: ["islet density (10^8 µm^3 tissue)"], ylx: [-46], ylfs: 15, ylls: 1.2});
bars({x0: 427, ins: insPctPH, insSem: insPctSemPH, totSem: totSemPH, letter: "F", lx: 356, ly: 364, title: ["PH"], tx: 498, ty: 380});
bars({x0: 680, ins: insPctPB, insSem: insPctSemPB, totSem: totSemPB, letter: "G", lx: 615, ly: 364, title: ["PB"], tx: 751, ty: 380});
bars({x0: 931, ins: insPctPT, insSem: insPctSemPT, totSem: totSemPT, sig: ptSig, letter: "H", lx: 883, ly: 364, title: ["PT"], tx: 1004, ty: 380});
// legend
const legStain = [["insulin", insCol], ["glucagon", gcgCol]];
const lg = svg.append("g");
legStain.forEach(([n, c], i) => {
  lg.append("rect").attr("x", 1116).attr("y", 431 + i * 31).attr("width", 45).attr("height", 16).attr("fill", c).attr("stroke", "#333").attr("stroke-width", 1);
  txt(lg, 1187, 447 + i * 30, n, {fs: 26, fw: "normal", anchor: "start", base: "alphabetic"});
});
seriesNames.forEach((n, i) => {
  lg.append("circle").attr("cx", 1138).attr("cy", 544 + i * 37.5).attr("r", 6).attr("fill", dotCol[i]);
  txt(lg, 1187, 555 + i * 37.5, n, {fs: 28, fw: "normal", anchor: "start", base: "alphabetic"});
});

// ---- Row 3 ----
const r3 = {yTop: 769, y0: 957, axisY: 978, stimY: 759, ly: 725, ty: 713, ymax: 0.10, fmt: ".2f",
  ylab: ["secreted insulin", "(per 10^7µm^3 beta cell vol.)"], ylx: [-80, -58]};
timePanel(Object.assign({}, r3, {x0: 89, xs: 110, xe: 403, ticks: insTicks, means: [insHeadND, insHeadAAb, insHeadT1D], sems: [insHeadNDsem, insHeadAAbSem, insHeadT1Dsem], letter: "I", lx: 12, title: "Head", tx: 247}));
timePanel(Object.assign({}, r3, {x0: 532, xs: 552, xe: 844, ticks: insTicksBody, means: [insBodyND, insBodyAAb, insBodyT1D], sems: [insBodyNDsem, insBodyAAbSem, insBodyT1Dsem], letter: "J", lx: 452, title: "Body", tx: 688}));
timePanel(Object.assign({}, r3, {x0: 979, xs: 999, xe: 1292, ticks: insTicks, means: [insTailND, insTailAAb, insTailT1D], sems: [insTailNDsem, insTailAAbSem, insTailT1Dsem], letter: "K", lx: 905, title: "Tail", tx: 1136}));

// ---- Row 4 ----
const r4 = {yTop: 1136, y0: 1322, axisY: 1343, labY: 1364, ly: 1080, ty: 1080, ylfs: 16, ylls: 0.8};
scatter(Object.assign({}, r4, {x0: 88, domain: [0, 0.25], ticks: auc1gTicks, fmt: ".2f", nd: auc1gND, aab: auc1gAAb, t1d: auc1gT1D, mean: auc1gMean, sem: auc1gSem,
  letter: "L", lx: 17, title: ["1G"], tx: 193, ylab: ["1G", "(AUC of insulin response)"], ylx: [-75, -54]}));
scatter(Object.assign({}, r4, {x0: 426, domain: [0, 0.6], ticks: auc55Ticks, fmt: ".1f", nd: auc55ND, aab: auc55AAb, t1d: auc55T1D, mean: auc55Mean, sem: auc55Sem, sig: auc55Sig,
  letter: "M", lx: 375, title: ["5.5G"], tx: 529, ylab: ["5.5G", "(AUC of insulin response)"], ylx: [-68, -47]}));
scatter(Object.assign({}, r4, {x0: 761, domain: [0, 2.5], ticks: auc111Ticks, fmt: ".1f", nd: auc111ND, aab: auc111AAb, t1d: auc111T1D, mean: auc111Mean, sem: auc111Sem, sig: auc111Sig,
  letter: "N", lx: 713, title: ["11.1G"], tx: 864, ylab: ["11.1G", "(AUC of insulin response)"], ylx: [-69, -49]}));
scatter(Object.assign({}, r4, {x0: 1088, domain: [0, 2.0], ticks: aucKclTicks, fmt: ".1f", nd: aucKclND, aab: aucKclAAb, t1d: aucKclT1D, mean: aucKclMean, sem: aucKclSem,
  letter: "O", lx: 1046, title: ["KCl"], tx: 1192, ylab: ["KCl", "(AUC of insulin response)"], ylx: [-68, -49]}));

// ---- Row 5 ----
const r5 = {yTop: 1489, y0: 1677, axisY: 1698, stimY: 1477, ly: 1432, ty: 1433, ymax: 100, fmt: "d", ticks: gcgTicks,
  ylab: ["secreted glucagon", "(per 10^7µm^3 alpha cell vol.)"], ylx: [-75, -52]};
timePanel(Object.assign({}, r5, {x0: 89, xs: 110, xe: 403, means: [glcHeadND, glcHeadAAb, glcHeadT1D], sems: [glcHeadNDsem, glcHeadAAbSem, glcHeadT1Dsem], letter: "P", lx: 17, title: "Head", tx: 247}));
timePanel(Object.assign({}, r5, {x0: 532, xs: 552, xe: 844, means: [glcBodyND, glcBodyAAb, glcBodyT1D], sems: [glcBodyNDsem, glcBodyAAbSem, glcBodyT1Dsem], letter: "Q", lx: 448, title: "Body", tx: 688}));
timePanel(Object.assign({}, r5, {x0: 979, xs: 999, xe: 1292, means: [glcTailND, glcTailAAb, glcTailT1D], sems: [glcTailNDsem, glcTailAAbSem, glcTailT1Dsem], letter: "R", lx: 905, title: "Tail", tx: 1136}));

// ---- Row 6 ----
const r6 = {yTop: 1867, y0: 2053, axisY: 2074, labY: 2093, ly: 1810, ty: 1810, domain: [0, 1600], ticks: gAucTicks, fmt: "d", tickFs: 13, ylfs: 15, ylls: 1.3};
scatter(Object.assign({}, r6, {x0: 90, nd: gAuc55ND, aab: gAuc55AAb, t1d: gAuc55T1D, mean: gAuc55Mean, sem: gAuc55Sem,
  letter: "S", lx: 17, title: ["5.5G"], tx: 194, ylab: ["5.5G", "(AUC of glucagon response)"], ylx: [-79, -60]}));
scatter(Object.assign({}, r6, {x0: 428, nd: gAuc1aND, aab: gAuc1aAAb, t1d: gAuc1aT1D, mean: gAuc1aMean, sem: gAuc1aSem,
  letter: "T", lx: 356, title: ["1G", "(after 5.5G)"], tx: 532, ylab: ["1G (after 5.5G)", "(AUC of glucagon response)"], ylx: [-81, -60]}));
scatter(Object.assign({}, r6, {x0: 764, nd: gAuc111ND, aab: gAuc111AAb, t1d: gAuc111T1D, mean: gAuc111Mean, sem: gAuc111Sem,
  letter: "U", lx: 697, title: ["11.1G"], tx: 868, ylab: ["11.1G", "(AUC of glucagon response)"], ylx: [-82, -61]}));
scatter(Object.assign({}, r6, {x0: 1096, nd: gAuc1bND, aab: gAuc1bAAb, t1d: gAuc1bT1D, mean: gAuc1bMean, sem: gAuc1bSem,
  letter: "V", lx: 1033, title: ["1G", "(after 11.1G)"], tx: 1198, ylab: ["1G (after 11.1G)", "(AUC of glucagon response)"], ylx: [-83, -60]}));
</script></body></html>
